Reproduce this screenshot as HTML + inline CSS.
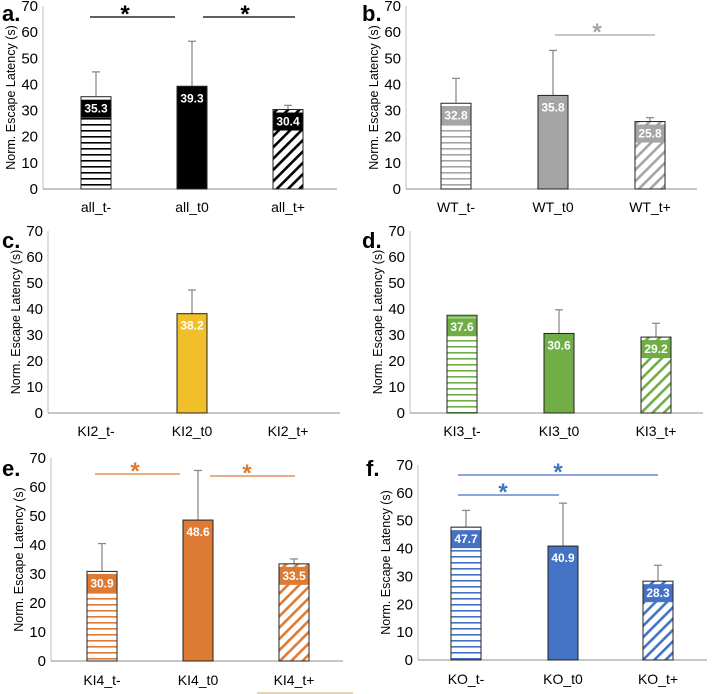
<!DOCTYPE html>
<html><head><meta charset="utf-8"><style>
html,body{margin:0;padding:0;background:#fff;}
svg{display:block;font-family:"Liberation Sans",sans-serif;}
</style></head><body>
<svg id="fig" width="720" height="694">
<defs id="defs"></defs>
</svg>
<script>
const categoriesA=["all_t-","all_t0","all_t+"];
const valuesA=[35.3,39.3,30.4];
const errorsA=[44.8,56.5,32.0];
const categoriesB=["WT_t-","WT_t0","WT_t+"];
const valuesB=[32.8,35.8,25.8];
const errorsB=[42.3,53.0,27.3];
const categoriesC=["KI2_t-","KI2_t0","KI2_t+"];
const valuesC=[null,38.2,null];
const errorsC=[null,47.3,null];
const categoriesD=["KI3_t-","KI3_t0","KI3_t+"];
const valuesD=[37.6,30.6,29.2];
const errorsD=[null,39.7,34.5];
const categoriesE=["KI4_t-","KI4_t0","KI4_t+"];
const valuesE=[30.9,48.6,33.5];
const errorsE=[40.5,65.7,35.2];
const categoriesF=["KO_t-","KO_t0","KO_t+"];
const valuesF=[47.7,40.9,28.3];
const errorsF=[53.7,56.3,34.0];
const yTicks=[0,10,20,30,40,50,60,70];

const NS="http://www.w3.org/2000/svg";
const svg=document.getElementById('fig');
const defs=document.getElementById('defs');
function mk(tag,attrs,parent){const e=document.createElementNS(NS,tag);for(const k in attrs)e.setAttribute(k,attrs[k]);(parent||svg).appendChild(e);return e;}

function patterns(id,color){
  const h=mk('pattern',{id:'h'+id,width:6,height:6,patternUnits:'userSpaceOnUse'},defs);
  mk('rect',{width:6,height:6,fill:'#fff'},h);
  mk('rect',{y:4,width:6,height:1.6,fill:color},h);
  const d=mk('pattern',{id:'d'+id,width:8,height:8,patternUnits:'userSpaceOnUse',patternTransform:'rotate(45)'},defs);
  mk('rect',{width:8,height:8,fill:'#fff'},d);
  mk('rect',{x:0,width:2.6,height:8,fill:color},d);
}

const panels=[
 {id:'a',letter:'a.',lx:2,ly:21,x0:43,x1:337,y0:189,y70:6,cx:[96,192,288],cats:categoriesA,vals:valuesA,errs:errorsA,color:'#000',sig:[[90,175,17,125],[203,295,17,245]],sigColor:'#000',labY:212},
 {id:'b',letter:'b.',lx:362,ly:21,x0:406,x1:697,y0:189,y70:6,cx:[456,553,650],cats:categoriesB,vals:valuesB,errs:errorsB,color:'#a5a5a5',sig:[[555,655,35,597]],sigColor:'#a5a5a5',labY:212},
 {id:'c',letter:'c.',lx:2,ly:248,x0:48,x1:340,y0:413,y70:231,cx:[96,192,288],cats:categoriesC,vals:valuesC,errs:errorsC,color:'#f0bf2a',sig:[],labY:436},
 {id:'d',letter:'d.',lx:362,ly:248,x0:410,x1:703,y0:413,y70:231,cx:[462,559,656],cats:categoriesD,vals:valuesD,errs:errorsD,color:'#70ad47',sig:[],labY:436},
 {id:'e',letter:'e.',lx:2,ly:476,x0:51,x1:343,y0:661,y70:458,cx:[102,198,294],cats:categoriesE,vals:valuesE,errs:errorsE,color:'#dd7b35',sig:[[95,180,474,135],[210,295,476,247]],sigColor:'#dd7b35',labY:685},
 {id:'f',letter:'f.',lx:366,ly:476,x0:418,x1:707,y0:660,y70:465,cx:[466,563,658],cats:categoriesF,vals:valuesF,errs:errorsF,color:'#4472c4',sig:[[458,559,495,503],[458,658,475,558]],sigColor:'#4472c4',labY:684}
];

panels.forEach(p=>{
  patterns(p.id,p.color);
  const g=mk('g',{});
  
  
  const ys=v=>p.y0-(v/70)*(p.y0-p.y70);
  const lt=mk('text',{x:p.lx,y:p.ly,'font-size':22,'font-weight':'bold',fill:'#000'},g);lt.textContent=p.letter;
  
  yTicks.forEach(t=>{
    const tx=mk('text',{x:p.x0-5,y:ys(t)+5,'font-size':15,'text-anchor':'end',fill:'#000'},g);tx.textContent=t;
    
  });
  const yc=(p.y0+p.y70)/2;
  const yt=mk('text',{x:0,y:0,'font-size':12.5,'text-anchor':'middle',fill:'#000',transform:`translate(${p.x0-28},${yc}) rotate(-90)`},g);
  yt.textContent='Norm. Escape Latency (s)';
  
  mk('line',{x1:p.x0,x2:p.x0,y1:p.y70,y2:p.y0,stroke:'#bfbfbf','stroke-width':1},g);
  const ax=mk('line',{x1:p.x0,x2:p.x1,y1:p.y0,y2:p.y0,stroke:'#8c8c8c','stroke-width':1},g);
  
  p.cats.forEach((c,i)=>{
    const cl=mk('text',{x:p.cx[i],y:p.labY,'font-size':14,'text-anchor':'middle',fill:'#000'},g);cl.textContent=c;
    
    const v=p.vals[i];if(v==null)return;
    const e=p.errs[i];
    const bx=p.cx[i]-15,bw=30,top=ys(v);
    if(e!=null){
      const el=mk('line',{x1:p.cx[i],x2:p.cx[i],y1:ys(e),y2:top,stroke:'#8c8c8c','stroke-width':1.3},g);
      
      mk('line',{x1:p.cx[i]-4,x2:p.cx[i]+4,y1:ys(e),y2:ys(e),stroke:'#8c8c8c','stroke-width':1.3},g);
    }
    const fill=i===0?`url(#h${p.id})`:i===1?p.color:`url(#d${p.id})`;
    const r=mk('rect',{x:bx,y:top,width:bw,height:p.y0-top,fill:fill,stroke:'#222','stroke-width':1},g);
    
    if(i!==1) mk('rect',{x:bx+0.5,y:top+3,width:bw-1,height:18,fill:p.color},g);
    const vt=mk('text',{x:p.cx[i],y:top+16,'font-size':12,'font-weight':'bold','text-anchor':'middle',fill:'#fff'},g);
    vt.textContent=v.toFixed(1);
    
  });
  p.sig.forEach(s=>{
    const sl=mk('line',{x1:s[0],x2:s[1],y1:s[2],y2:s[2],stroke:p.sigColor,'stroke-width':1.2},g);
    
    const st=mk('text',{x:s[3],y:s[2]+5,'font-size':24,'font-weight':'bold','text-anchor':'middle',fill:p.sigColor},g);st.textContent='*';
    
  });
});
const bl=mk('line',{x1:257,x2:353,y1:693,y2:693,stroke:'#d9c9a0','stroke-width':1.5});


</script>
</body></html>
